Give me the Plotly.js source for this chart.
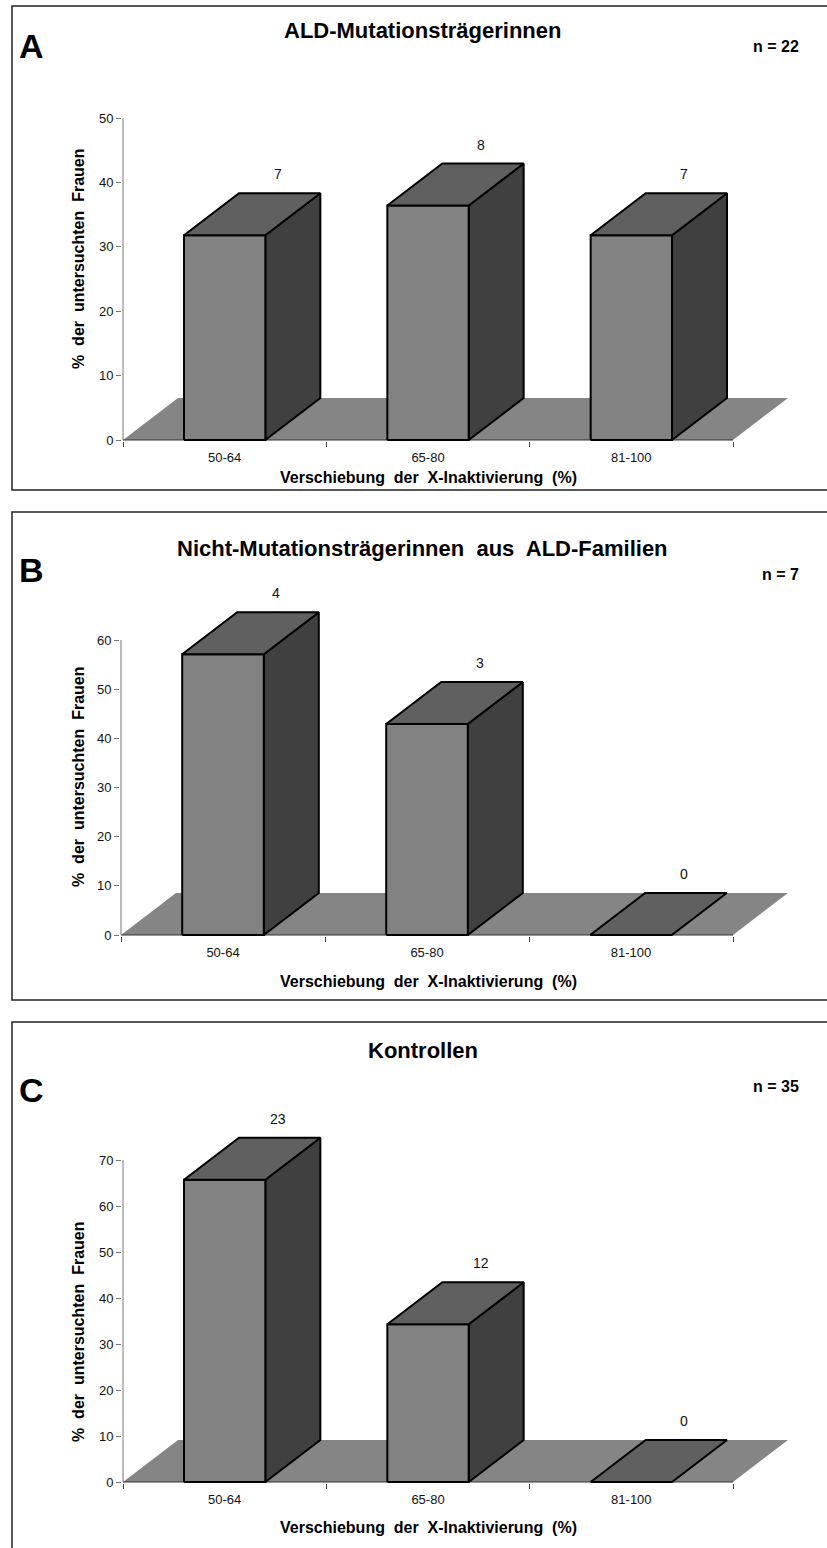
<!DOCTYPE html>
<html><head><meta charset="utf-8">
<script src="https://cdn.plot.ly/plotly-3.0.1.min.js"></script>
<style>html,body{margin:0;padding:0;background:#fff}#chart{width:827px;height:1548px}</style>
</head><body><div id="chart"></div>
<script>
// ---------- data ----------
const categories = ['50-64', '65-80', '81-100'];
const countsA = [7, 8, 7];
const percentA = [31.8, 36.4, 31.8];
const countsB = [4, 3, 0];
const percentB = [57.1, 42.9, 0];
const countsC = [23, 12, 0];
const percentC = [65.7, 34.3, 0];
const yTicksA = [0, 10, 20, 30, 40, 50];
const yTicksB = [0, 10, 20, 30, 40, 50, 60];
const yTicksC = [0, 10, 20, 30, 40, 50, 60, 70];
const panelLetters = ['A', 'B', 'C'];
const panelTitles = ['ALD-Mutationsträgerinnen', 'Nicht-Mutationsträgerinnen\u00a0 aus\u00a0 ALD-Familien', 'Kontrollen'];
const sampleSizes = [22, 7, 35];
const xAxisTitle = 'Verschiebung\u00a0 der\u00a0 X-Inaktivierung\u00a0 (%)';
const yAxisTitle = '%\u00a0 der\u00a0 untersuchten\u00a0 Frauen';

// ---------- layout geometry (pixels) ----------
const W = 827, H = 1548;
const geo = [
  {axL:123, axR:733, y0:440,  yTop:118,  frameT:6,    frameB:490,  titleY:30,   letterY:46,   nY:47,   xTitleY:477,  yTitleY:259},
  {axL:121, axR:733, y0:935,  yTop:640,  frameT:512,  frameB:1000, titleY:548,  letterY:570,  nY:575,  xTitleY:981,  yTitleY:777},
  {axL:123, axR:733, y0:1482, yTop:1160, frameT:1022, frameB:1600, titleY:1050, letterY:1090, nY:1086, xTitleY:1527, yTitleY:1332}
];
const seriesCounts = [countsA, countsB, countsC];
const seriesPercent = [percentA, percentB, percentC];
const seriesTicks = [yTicksA, yTicksB, yTicksC];

const DX = 55, DY = 42, HALF = 0.2;
const FONT = '"Liberation Sans", Arial, Helvetica, sans-serif';
const COL_FRONT = '#828282', COL_TOP = '#606060', COL_SIDE = '#404040', COL_FLOOR = '#858585';
const AX_COL = '#777777';

const traces = [], annotations = [], shapes = [];
const layout = {
  width: W, height: H, margin: {l:0, r:0, t:0, b:0},
  paper_bgcolor: '#fff', plot_bgcolor: 'rgba(0,0,0,0)',
  showlegend: false, font: {family: FONT, color: '#111'}
};

function poly(xs, ys, fill, lw, xa, ya) {
  traces.push({type:'scatter', mode:'lines', x: xs.concat([xs[0]]), y: ys.concat([ys[0]]),
    fill:'toself', fillcolor: fill, line:{color:'#000', width: lw}, hoverinfo:'skip', xaxis: xa, yaxis: ya});
}
function line(xs, ys, col, xa, ya) {
  traces.push({type:'scatter', mode:'lines', x: xs, y: ys, line:{color: col, width: 1},
    hoverinfo:'skip', xaxis: xa, yaxis: ya});
}

geo.forEach((g, k) => {
  const idx = k + 1;
  const xa = 'x' + (idx === 1 ? '' : idx), ya = 'y' + (idx === 1 ? '' : idx);
  const ticks = seriesTicks[k];
  const ymax = ticks[ticks.length - 1];
  const nCat = categories.length;
  const unitX = (g.axR - g.axL) / nCat;
  const unitY = (g.y0 - g.yTop) / ymax;
  const plotL = g.axL - 1, plotR = g.axR + 75, plotB = g.y0 + 1, plotT = g.yTop - 70;
  const ddx = DX / unitX, ddy = DY / unitY;
  const xLo = -0.5, xHi = nCat - 0.5;

  layout['xaxis' + (idx === 1 ? '' : idx)] = {
    domain: [plotL / W, plotR / W], anchor: ya,
    range: [xLo - 1 / unitX, xHi + 75 / unitX],
    tickvals: categories.map((c, i) => i), ticktext: categories, ticks: '',
    ticklabelstandoff: 7,
    minor: {tickvals: Array.from({length: nCat + 1}, (_, i) => xLo + i), ticks: 'outside', ticklen: 5, tickcolor: '#444', tickwidth: 1},
    showgrid: false, zeroline: false, showline: false, fixedrange: true,
    tickfont: {family: FONT, size: 13, color: '#111'}
  };
  layout['yaxis' + (idx === 1 ? '' : idx)] = {
    domain: [1 - plotB / H, 1 - plotT / H], anchor: xa,
    range: [-1 / unitY, (g.y0 - plotT) / unitY],
    tickvals: ticks, ticktext: ticks.map(String), ticks: 'outside', ticklen: 5, tickcolor: AX_COL,
    showgrid: false, zeroline: false, showline: false, fixedrange: true,
    tickfont: {family: FONT, size: 13, color: '#111'}
  };

  // floor
  poly([xLo, xHi, xHi + ddx, xLo + ddx], [0, 0, ddy, ddy], COL_FLOOR, 0, xa, ya);
  traces[traces.length - 1].line.width = 0;
  // axis lines
  line([xLo, xHi], [0, 0], '#333', xa, ya);
  line([xLo, xLo], [0, ymax], AX_COL, xa, ya);

  // bars
  const vals = seriesPercent[k];
  vals.forEach((v, i) => {
    const l = i - HALF, r = i + HALF;
    if (v > 0) {
      poly([r, r + ddx, r + ddx, r], [0, ddy, v + ddy, v], COL_SIDE, 2, xa, ya);
      poly([l, r, r, l], [0, 0, v, v], COL_FRONT, 2, xa, ya);
    }
    poly([l, r, r + ddx, l + ddx], [v, v, v + ddy, v + ddy], COL_TOP, 2, xa, ya);
    annotations.push({xref: xa, yref: ya, x: i + 53 / unitX, y: v + ddy, yshift: 19,
      text: String(seriesCounts[k][i]), showarrow: false, xanchor: 'center', yanchor: 'middle',
      font: {family: FONT, size: 14, color: '#111'}});
  });

  // frame
  shapes.push({type:'rect', xref:'paper', yref:'paper', x0: 12 / W, x1: 840 / W,
    y0: 1 - g.frameB / H, y1: 1 - g.frameT / H, line:{color:'#222', width:1.5}, fillcolor:'rgba(0,0,0,0)'});

  // texts
  annotations.push({xref:'paper', yref:'paper', x: 31 / W, y: 1 - g.letterY / H, text: '<b>' + panelLetters[k] + '</b>',
    showarrow:false, xanchor:'center', yanchor:'middle', font:{family: FONT, size: 34, color:'#000'}});
  annotations.push({xref:'paper', yref:'paper', x: 423 / W, y: 1 - g.titleY / H, text: '<b>' + panelTitles[k] + '</b>',
    showarrow:false, xanchor:'center', yanchor:'middle', font:{family: FONT, size: 22, color:'#000'}});
  annotations.push({xref:'paper', yref:'paper', x: 801 / W, y: 1 - g.nY / H, text: '<b>n = ' + sampleSizes[k] + '</b>',
    showarrow:false, xanchor:'right', yanchor:'middle', font:{family: FONT, size: 16, color:'#000'}});
  annotations.push({xref:'paper', yref:'paper', x: 428 / W, y: 1 - g.xTitleY / H, text: '<b>' + xAxisTitle + '</b>',
    showarrow:false, xanchor:'center', yanchor:'middle', font:{family: FONT, size: 16, color:'#000'}});
  annotations.push({xref:'paper', yref:'paper', x: 78 / W, y: 1 - g.yTitleY / H, text: '<b>' + yAxisTitle + '</b>',
    textangle: -90, showarrow:false, xanchor:'center', yanchor:'middle', font:{family: FONT, size: 16, color:'#000'}});
});

layout.annotations = annotations;
layout.shapes = shapes;
Plotly.newPlot('chart', traces, layout, {staticPlot: true, displayModeBar: false});
</script>
</body></html>
